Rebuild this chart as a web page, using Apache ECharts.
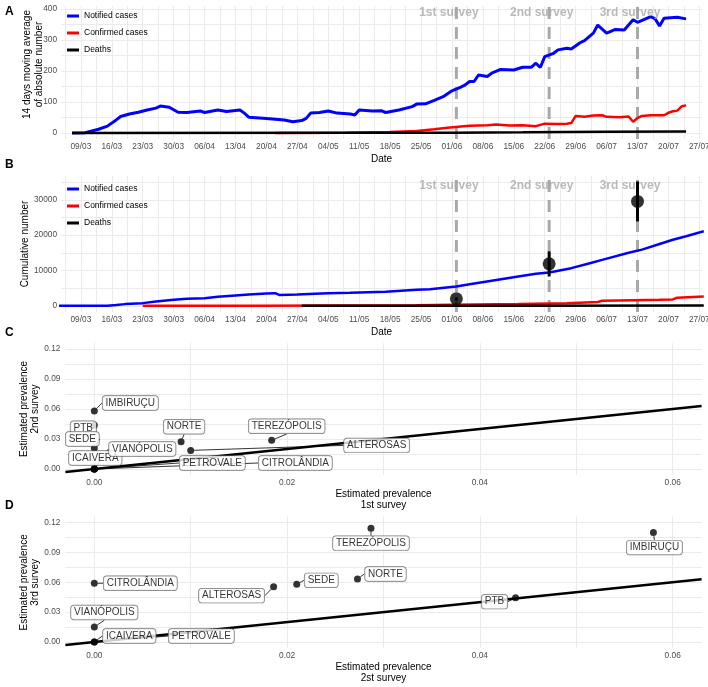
<!DOCTYPE html>
<html><head><meta charset="utf-8">
<script src="https://cdn.jsdelivr.net/npm/echarts@6/dist/echarts.min.js"></script>
<style>html,body{margin:0;padding:0;background:#fff}#c{width:708px;height:687px}</style>
</head><body><div id="c"></div>
<script>
// ================= DATA =================
const xTickLabels = ['09/03','16/03','23/03','30/03','06/04','13/04','20/04','27/04','04/05','11/05','18/05','25/05','01/06','08/06','15/06','22/06','29/06','06/07','13/07','20/07','27/07'];
const yTickLabelsA = [0, 100, 200, 300, 400];
const yTickLabelsB = [0, 10000, 20000, 30000];
const prevTickLabelsX = [0, 0.02, 0.04, 0.06];
const prevTickLabelsY = [0, 0.03, 0.06, 0.09, 0.12];

const seriesNames = ['Notified cases', 'Confirmed cases', 'Deaths'];

// Panel A : 14 days moving average
const notifiedMADates = ['07/03','10/03','13/03','15/03','17/03','18/03','20/03','22/03','24/03','26/03','27/03','29/03','31/03','02/04','05/04','06/04','09/04','11/04','14/04','15/04','16/04','20/04','24/04','26/04','28/04','29/04','30/04','02/05','04/05','06/05','09/05','10/05','11/05','14/05','16/05','17/05','20/05','23/05','24/05','26/05','28/05','30/05','01/06','03/06','04/06','05/06','06/06','07/06','09/06','10/06','12/06','15/06','17/06','19/06','20/06','21/06','22/06','24/06','25/06','27/06','28/06','30/06','01/07','03/07','04/07','06/07','08/07','10/07','12/07','13/07','16/07','17/07','18/07','19/07','22/07','24/07'];
const notifiedMAValues = [0,1,12,22,42,53,61,67,74,80,87,83,67,66,71,66,74,69,74,64,51,47,42,36,40,47,64,66,71,64,61,58,74,71,72,66,74,85,93,94,105,117,136,148,155,166,166,187,182,193,205,203,212,212,225,211,246,257,268,273,271,291,298,322,348,322,334,332,365,357,375,368,345,370,373,368];

const confirmedMADates = ['22/04','08/05','18/05','24/05','28/05','31/05','03/06','05/06','09/06','11/06','14/06','17/06','20/06','22/06','25/06','27/06','28/06','29/06','01/07','03/07','05/07','06/07','09/07','11/07','12/07','13/07','14/07','16/07','19/07','20/07','21/07','22/07','23/07','24/07'];
const confirmedMAValues = [0,1,3,6,12,17,21,23,25,27,24,25,22,30,29,30,32,55,52,56,57,52,51,53,36,48,55,57,57,65,70,72,86,89];

const deathsMADates = ['07/03','08/05','01/06','17/06','06/07','24/07'];
const deathsMAValues = [0,0.5,1,2,4,5];

// Panel B : cumulative numbers
const notifiedCumDates = ['04/03','12/03','15/03','17/03','19/03','23/03','26/03','30/03','02/04','06/04','09/04','13/04','16/04','20/04','22/04','23/04','27/04','01/05','04/05','09/05','13/05','17/05','24/05','27/05','02/06','05/06','10/06','16/06','20/06','23/06','28/06','02/07','05/07','11/07','14/07','18/07','21/07','24/07','28/07'];
const notifiedCumValues = [0,0,50,250,480,760,1220,1700,1980,2170,2550,2920,3200,3480,3590,3050,3200,3400,3550,3700,3850,4000,4530,4720,5470,6100,7100,8300,9100,9430,10660,12000,13000,15000,15900,17500,18700,19700,21100];

const confirmedCumDates = ['23/03','18/04','08/05','24/05','01/06','16/06','27/06','04/07','05/07','12/07','18/07','21/07','22/07','28/07'];
const confirmedCumValues = [0,30,80,150,300,480,760,1100,1450,1600,1700,1800,2300,2650];

const deathsCumDates = ['28/04','17/06','28/07'];
const deathsCumValues = [0,40,110];

// Surveys
const surveyNames = ['1st survey', '2nd survey', '3rd survey'];
const surveyDates = ['02/06', '23/06', '13/07'];
const surveyEstimate = [2000, 11900, 29550];
const surveyLower = [1600, 8300, 23900];
const surveyUpper = [2400, 15400, 35200];

// Panels C / D : estimated prevalence by region
const regions = ['IMBIRUÇU','PTB','SEDE','ICAIVERA','VIANÓPOLIS','PETROVALE','CITROLÂNDIA','NORTE','ALTEROSAS','TEREZÓPOLIS'];
const prevalence1st = [0, 0, 0, 0, 0, 0, 0, 0.009, 0.010, 0.0184];
const prevalence2nd = [0.058, 0.0437, 0.021, 0, 0, 0, 0, 0.0273, 0.0186, 0.0287];
const prevalence3rd = [0.110, 0.0446, 0.058, 0, 0.0151, 0, 0.0591, 0.0634, 0.0557, 0.1145];

// ================= STYLE / LAYOUT =================
const FONT = '"Liberation Sans", Arial, Helvetica, sans-serif';
const GRID_COLOR = '#ebebeb';
const TICK_COLOR = '#4d4d4d';
const SURVEY_GRAY = '#a9a9a9';
const X_MIN = -4.5, X_MAX = 140.6;
const PX_MIN = -0.003, PX_MAX = 0.063, PY_MIN = -0.006, PY_MAX = 0.126;
const surveyTextYA = 387, surveyTextYB = 34050;
// label offsets (pixels) for repelled labels
const labelOffsetC = [[36,-8],[-11,3],[-12,-9],[1,-11],[48,-20],[118,-6],[201,-6],[3,-15],[186,-5],[15,-14]];
const labelOffsetD = [[1,15],[-21,4],[24.5,-4],[35,-6],[10,-14.5],[107,-6],[46,0],[28,-5],[-42,9],[0,15]];

// ================= HELPERS =================
const BASE = Date.UTC(2020, 2, 9);
const dayOf = s => { const p = s.split('/').map(Number); return (Date.UTC(2020, p[1]-1, p[0]) - BASE) / 864e5; };
const zip = (ds, vs) => ds.map((d, i) => [dayOf(d), vs[i]]);
const xTickDays = xTickLabels.map(dayOf);
const xSplitDays = []; for (let d = -3.5; d <= 140; d += 3.5) xSplitDays.push(d);
const ySplitA = []; for (let v = 0; v <= 400; v += 50) ySplitA.push(v);
const ySplitB = []; for (let v = 0; v <= 35000; v += 5000) ySplitB.push(v);
const pxSplit = [0,1,2,3,4,5,6].map(i => +(i*0.01).toFixed(3));
const pySplit = [0,1,2,3,4,5,6,7,8].map(i => +(i*0.015).toFixed(3));

const tickLabel = (vals, fmt, margin) => ({ customValues: vals, formatter: fmt, color: TICK_COLOR, fontSize: 8.3, fontFamily: FONT, margin: margin });
const split = { show: true, lineStyle: { color: GRID_COLOR, width: 1 } };
const nameStyle = extra => Object.assign({ color: '#000', fontSize: 10, fontFamily: FONT, lineHeight: 11.5 }, extra || {});

function dateAxis(gi) {
  return { gridIndex: gi, type: 'value', min: X_MIN, max: X_MAX,
    name: 'Date', nameLocation: 'middle', nameGap: 14, nameMoveOverlap: false, nameTextStyle: nameStyle(),
    axisLine: { show: false }, axisTick: { show: false, customValues: xSplitDays },
    axisLabel: tickLabel(xTickDays, v => xTickLabels[xTickDays.indexOf(v)], 4), splitLine: split };
}
function prevXAxis(gi, name) {
  return { gridIndex: gi, type: 'value', min: PX_MIN, max: PX_MAX,
    name: name, nameLocation: 'middle', nameGap: 13, nameMoveOverlap: false, nameTextStyle: nameStyle(),
    axisLine: { show: false }, axisTick: { show: false, customValues: pxSplit },
    axisLabel: tickLabel(prevTickLabelsX, v => v.toFixed(2), 4), splitLine: split };
}
function prevYAxis(gi, name) {
  return { gridIndex: gi, type: 'value', min: PY_MIN, max: PY_MAX,
    name: name, nameLocation: 'middle', nameGap: 24, nameMoveOverlap: false, nameTextStyle: nameStyle(),
    axisLine: { show: false }, axisTick: { show: false, customValues: pySplit },
    axisLabel: tickLabel(prevTickLabelsY, v => v.toFixed(2), 5), splitLine: split };
}

function vlineSeries(gi) {
  return { type: 'custom', xAxisIndex: gi, yAxisIndex: gi, z: 1, silent: true,
    data: surveyDates.map(d => [dayOf(d), 0]),
    renderItem: (params, api) => {
      const x = api.coord([api.value(0), 0])[0];
      const cs = params.coordSys;
      return { type: 'line', shape: { x1: x, y1: cs.y + cs.height, x2: x, y2: cs.y },
        style: { stroke: SURVEY_GRAY, lineWidth: 3, lineDash: [12, 8] } };
    } };
}
function lineSeries(gi, name, data, color, width) {
  return { type: 'line', name: name, xAxisIndex: gi, yAxisIndex: gi, data: data, z: 2,
    showSymbol: false, symbol: 'none', itemStyle: { color: color },
    lineStyle: { color: color, width: width }, silent: true };
}
function surveyTextSeries(gi, y) {
  return { type: 'scatter', xAxisIndex: gi, yAxisIndex: gi, z: 3, silent: true,
    symbolSize: 1, itemStyle: { color: 'transparent' },
    data: surveyDates.map((d, i) => ({ name: surveyNames[i], value: [dayOf(d), y] })),
    label: { show: true, position: 'inside', formatter: '{b}', color: SURVEY_GRAY,
      fontWeight: 'bold', fontSize: 12, fontFamily: FONT, offset: [-7.5, 0] } };
}
function prevSeries(gi, xs, ys, offsets) {
  return [
    { type: 'line', xAxisIndex: gi, yAxisIndex: gi, z: 2, silent: true, symbol: 'none',
      data: [[PX_MIN, PX_MIN], [PX_MAX, PX_MAX]], lineStyle: { color: '#000', width: 2.5 } },
    { type: 'scatter', xAxisIndex: gi, yAxisIndex: gi, z: 5, silent: true, symbolSize: 7,
      itemStyle: { color: '#000' },
      data: regions.map((r, i) => ({ name: r, value: [xs[i], ys[i]] })),
      label: { show: true, position: 'inside', formatter: '{b}', color: '#000', fontSize: 10,
        fontFamily: FONT, backgroundColor: '#fff', borderColor: '#555', borderWidth: 0.7,
        borderRadius: 3, padding: [2, 3, 1, 3], lineHeight: 11 },
      labelLine: { show: true, lineStyle: { color: '#000', width: 0.8 } },
      labelLayout: p => ({ dx: offsets[p.dataIndex][0], dy: offsets[p.dataIndex][1] }) }
  ];
}
const legendCfg = top => ({ data: seriesNames, orient: 'vertical', left: 62, top: top,
  icon: 'rect', itemWidth: 12, itemHeight: 3, itemGap: 5, selectedMode: false,
  textStyle: { color: '#000', fontSize: 8.5, fontFamily: FONT, lineHeight: 12 } });
const letter = (t, top) => ({ type: 'text', left: 5, top: top,
  style: { text: t, font: 'bold 12px ' + FONT, fill: '#000' } });
const gridCfg = (left, top, width, height) => ({ left, top, width, height, outerBoundsMode: 'none', containLabel: false });

const option = {
  animation: false,
  backgroundColor: '#fff',
  textStyle: { fontFamily: FONT },
  grid: [
    gridCfg(61, 6, 641, 133),
    gridCfg(61, 176, 641, 136),
    gridCfg(65.4, 343, 636.2, 132),
    gridCfg(65.4, 516.7, 636.2, 131.3)
  ],
  legend: [legendCfg(5), legendCfg(178)],
  graphic: [letter('A', 5.5), letter('B', 159), letter('C', 326.5), letter('D', 500)],
  xAxis: [
    dateAxis(0), dateAxis(1),
    prevXAxis(2, 'Estimated prevalence\n1st survey'),
    prevXAxis(3, 'Estimated prevalence\n2st survey')
  ],
  yAxis: [
    { gridIndex: 0, type: 'value', min: -19.5, max: 409.5,
      name: '14 days moving average\nof absolute number', nameLocation: 'middle', nameGap: 16.5, nameMoveOverlap: false,
      nameTextStyle: nameStyle({ padding: [0, 0, 0, 16] }),
      axisLine: { show: false }, axisTick: { show: false, customValues: ySplitA },
      axisLabel: tickLabel(yTickLabelsA, v => String(v), 4), splitLine: split },
    { gridIndex: 1, type: 'value', min: -1750, max: 36750,
      name: 'Cumulative number', nameLocation: 'middle', nameGap: 30, nameMoveOverlap: false,
      nameTextStyle: nameStyle(),
      axisLine: { show: false }, axisTick: { show: false, customValues: ySplitB },
      axisLabel: tickLabel(yTickLabelsB, v => String(v), 4), splitLine: split },
    prevYAxis(2, 'Estimated prevalence\n2nd survey'),
    prevYAxis(3, 'Estimated prevalence\n3rd survey')
  ],
  series: [
    vlineSeries(0),
    lineSeries(0, seriesNames[0], zip(notifiedMADates, notifiedMAValues), '#0000ff', 3),
    lineSeries(0, seriesNames[1], zip(confirmedMADates, confirmedMAValues), '#ff0000', 2.5),
    lineSeries(0, seriesNames[2], zip(deathsMADates, deathsMAValues), '#000000', 2.5),
    surveyTextSeries(0, surveyTextYA),

    vlineSeries(1),
    lineSeries(1, seriesNames[0], zip(notifiedCumDates, notifiedCumValues), '#0000ff', 2.5),
    lineSeries(1, seriesNames[1], zip(confirmedCumDates, confirmedCumValues), '#ff0000', 2.5),
    lineSeries(1, seriesNames[2], zip(deathsCumDates, deathsCumValues), '#000000', 2.5),
    surveyTextSeries(1, surveyTextYB),
    { type: 'custom', xAxisIndex: 1, yAxisIndex: 1, z: 6, silent: true,
      data: surveyDates.map((d, i) => [dayOf(d), surveyLower[i], surveyUpper[i]]),
      renderItem: (params, api) => {
        const a = api.coord([api.value(0), api.value(1)]);
        const b = api.coord([api.value(0), api.value(2)]);
        return { type: 'line', shape: { x1: a[0], y1: a[1], x2: b[0], y2: b[1] },
          style: { stroke: '#000', lineWidth: 3 } };
      } },
    { type: 'scatter', xAxisIndex: 1, yAxisIndex: 1, z: 7, silent: true, symbolSize: 13,
      itemStyle: { color: '#000' },
      data: surveyDates.map((d, i) => [dayOf(d), surveyEstimate[i]]) },

    ...prevSeries(2, prevalence1st, prevalence2nd, labelOffsetC),
    ...prevSeries(3, prevalence2nd, prevalence3rd, labelOffsetD)
  ]
};

const chart = echarts.init(document.getElementById('c'), null, { renderer: 'canvas' });
chart.setOption(option);
</script>
</body></html>
